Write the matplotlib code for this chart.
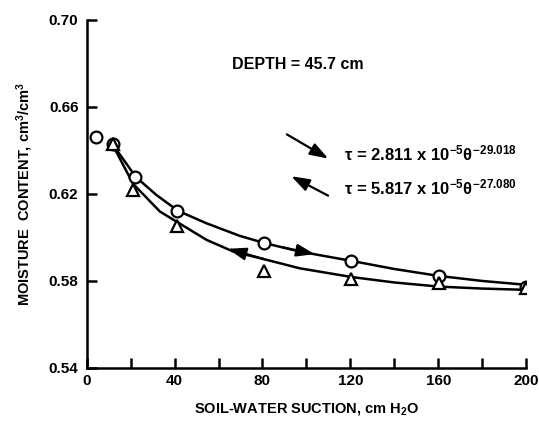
import matplotlib
matplotlib.use('Agg')
import matplotlib.pyplot as plt
import numpy as np

# measured points, drying (circles) and wetting (triangles)
suction_drying = [4, 12, 22, 41, 80.5, 120.5, 160.5, 200]
theta_drying = [0.646, 0.643, 0.628, 0.612, 0.5975, 0.5892, 0.5823, 0.5772]
suction_wetting = [12, 21, 41, 80.5, 120.5, 160.5, 200]
theta_wetting = [0.643, 0.622, 0.6053, 0.5847, 0.5808, 0.579, 0.5769]

# fitted curves
curve_up_x = [12, 22.3, 31.7, 41.6, 54.5, 69.7, 80.6, 97, 120.6, 140, 160.4, 180, 200.3]
curve_up_y = [0.6425, 0.6278, 0.6195, 0.6122, 0.6065, 0.6007, 0.5975, 0.5935, 0.5892,
              0.5855, 0.5823, 0.5800, 0.5782]
curve_lo_x = [12, 21.1, 33.3, 41.6, 54.5, 66.7, 81.9, 97, 120.6, 140, 160.4, 180, 200.3]
curve_lo_y = [0.6421, 0.6246, 0.6119, 0.6068, 0.5989, 0.5935, 0.5897, 0.5858, 0.5818,
              0.5793, 0.5774, 0.5765, 0.5759]

x_ticks = [0, 40, 80, 120, 160, 200]
y_ticks = [0.54, 0.58, 0.62, 0.66, 0.70]

plt.rcParams['font.family'] = ['Liberation Sans', 'DejaVu Sans']
plt.rcParams['font.weight'] = 'bold'
plt.rcParams['axes.labelweight'] = 'bold'
plt.rcParams['mathtext.fontset'] = 'custom'
plt.rcParams['mathtext.rm'] = 'Liberation Sans:bold'
plt.rcParams['mathtext.it'] = 'Liberation Sans:bold'
plt.rcParams['mathtext.bf'] = 'Liberation Sans:bold'

fig = plt.figure(figsize=(5.39, 4.22), dpi=100)
ax = fig.add_axes([0.161, 0.128, 0.815, 0.825])

ax.plot(curve_up_x, curve_up_y, color='black', lw=1.8)
ax.plot(curve_lo_x, curve_lo_y, color='black', lw=1.8)
ax.plot(suction_drying, theta_drying, 'o', ms=8.5, mfc='white', mec='black', mew=1.6, ls='none')
ax.plot(suction_wetting, theta_wetting, '^', ms=8, mfc='white', mec='black', mew=1.6, ls='none')

arrow_style = dict(arrowstyle='-|>,head_length=1.1,head_width=0.38', color='black', lw=1.6)

# direction arrows on the curves
def curve_arrow(xs, ys, x0, x1):
    y0 = np.interp(x0, xs, ys)
    y1 = np.interp(x1, xs, ys)
    ax.annotate('', xy=(x1, y1), xytext=(x0, y0), arrowprops=arrow_style)

curve_arrow(curve_up_x, curve_up_y, 88, 105)
curve_arrow(curve_lo_x, curve_lo_y, 82, 63)

# key arrows next to the equations
ax.annotate('', xy=(111, 0.6356), xytext=(90, 0.6480), arrowprops=arrow_style)
ax.annotate('', xy=(92, 0.6287), xytext=(111, 0.6186), arrowprops=arrow_style)
ax.text(117, 0.6356, r'$\tau$ = 2.811 x 10$^{-5}$$\theta^{-29.018}$', fontsize=12, va='baseline')
ax.text(117, 0.6197, r'$\tau$ = 5.817 x 10$^{-5}$$\theta^{-27.080}$', fontsize=12, va='baseline')

ax.text(66, 0.6793, 'DEPTH = 45.7 cm', fontsize=11.5, va='center')

ax.set_xlim(0, 200)
ax.set_ylim(0.54, 0.70)
ax.set_xticks(x_ticks)
ax.set_xticks(np.arange(20, 200, 40), minor=True)
ax.set_yticks(y_ticks)
ax.set_xticklabels([str(v) for v in x_ticks])
ax.set_yticklabels(['%.2f' % v for v in y_ticks])
ax.tick_params(axis='both', which='both', direction='in', length=7, width=1.8, labelsize=11)
ax.tick_params(axis='x', pad=4)
ax.tick_params(axis='y', pad=6)

for s in ['top', 'right']:
    ax.spines[s].set_visible(False)
for s in ['left', 'bottom']:
    ax.spines[s].set_linewidth(1.8)

ax.set_xlabel(r'SOIL-WATER SUCTION, cm H$_2$O', fontsize=10.5, labelpad=10)
ax.set_ylabel(r'MOISTURE  CONTENT, cm$^3$/cm$^3$', fontsize=10.5, labelpad=10)

fig.savefig('out.png', dpi=100)
